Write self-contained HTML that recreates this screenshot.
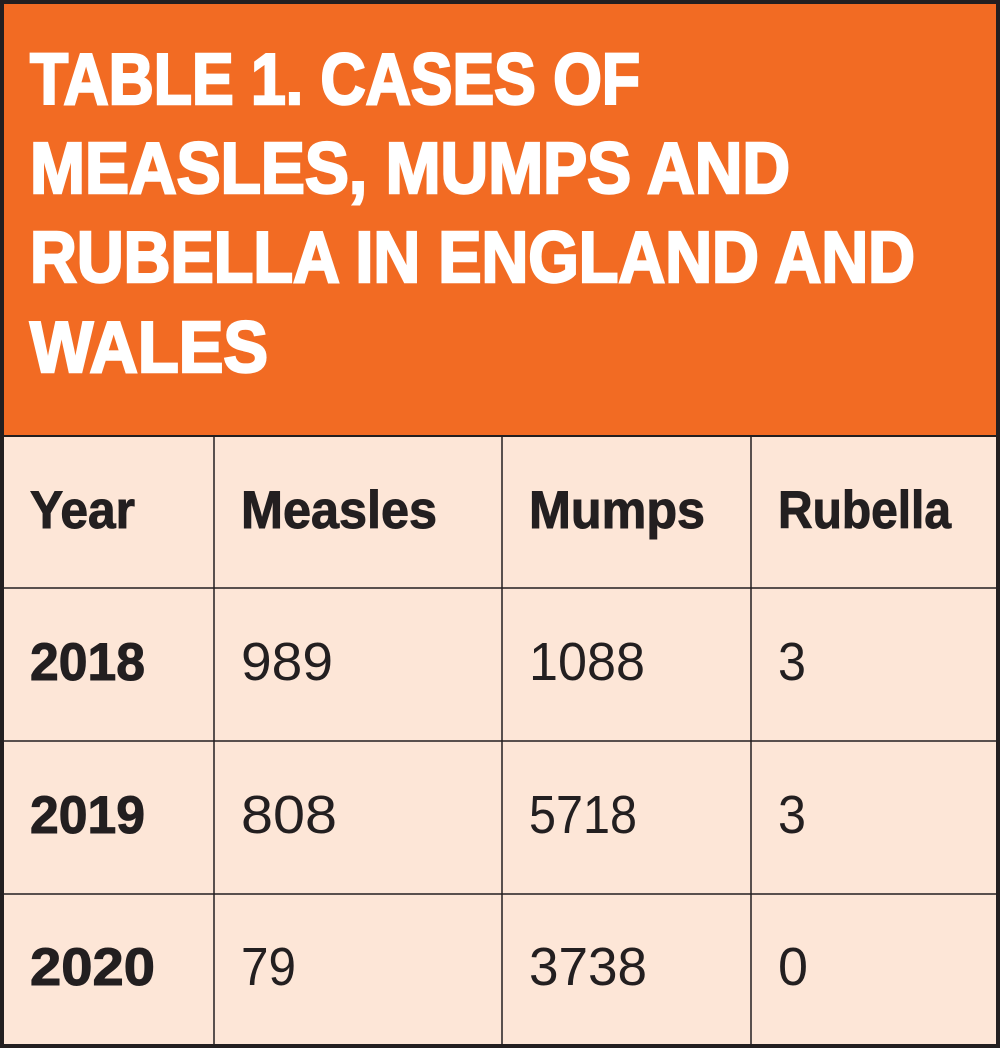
<!DOCTYPE html>
<html><head><meta charset="utf-8"><style>
html,body{margin:0;padding:0;background:#fff}
svg{display:block}
.t{font-family:"Liberation Sans",sans-serif;font-weight:bold;fill:#fff;stroke:#fff;stroke-width:2.5;font-size:72px}
.h{font-family:"Liberation Sans",sans-serif;font-weight:bold;fill:#231f20;stroke:#231f20;stroke-width:1;font-size:53px}
.v{font-family:"Liberation Sans",sans-serif;fill:#231f20;font-size:54px}
</style></head><body>
<svg width="1000" height="1048" viewBox="0 0 1000 1048">
<rect x="0" y="0" width="1000" height="1048" fill="#231f20"/>
<rect x="4" y="4" width="992" height="431" fill="#f26b23"/>
<rect x="4" y="437" width="992" height="607" fill="#fde6d7"/>
<g stroke="#231f20" stroke-width="1.5">
<line x1="4" x2="996" y1="588" y2="588"/><line x1="4" x2="996" y1="741" y2="741"/><line x1="4" x2="996" y1="894" y2="894"/>
<line x1="214" x2="214" y1="436" y2="1044"/><line x1="502" x2="502" y1="436" y2="1044"/><line x1="751" x2="751" y1="436" y2="1044"/>
</g>
<g>
<text class="t" x="30" y="104" textLength="610" lengthAdjust="spacingAndGlyphs">TABLE 1. CASES OF</text>
<text class="t" x="30" y="193" textLength="760" lengthAdjust="spacingAndGlyphs">MEASLES, MUMPS AND</text>
<text class="t" x="30" y="282" textLength="885" lengthAdjust="spacingAndGlyphs">RUBELLA IN ENGLAND AND</text>
<text class="t" x="30" y="372" textLength="238" lengthAdjust="spacingAndGlyphs">WALES</text>
</g>
<g>
<text class="h" x="30" y="528" textLength="105" lengthAdjust="spacingAndGlyphs">Year</text>
<text class="h" x="241" y="528" textLength="196" lengthAdjust="spacingAndGlyphs">Measles</text>
<text class="h" x="529" y="528" textLength="176" lengthAdjust="spacingAndGlyphs">Mumps</text>
<text class="h" x="778" y="528" textLength="173" lengthAdjust="spacingAndGlyphs">Rubella</text>
</g>
<g>
<text class="h" x="30" y="680" textLength="115" lengthAdjust="spacingAndGlyphs">2018</text>
<text class="v" x="241" y="680" textLength="92" lengthAdjust="spacingAndGlyphs">989</text>
<text class="v" x="529" y="680" textLength="116" lengthAdjust="spacingAndGlyphs">1088</text>
<text class="v" x="778" y="680" textLength="28" lengthAdjust="spacingAndGlyphs">3</text>
</g>
<g>
<text class="h" x="30" y="833" textLength="115" lengthAdjust="spacingAndGlyphs">2019</text>
<text class="v" x="241" y="833" textLength="96" lengthAdjust="spacingAndGlyphs">808</text>
<text class="v" x="529" y="833" textLength="108" lengthAdjust="spacingAndGlyphs">5718</text>
<text class="v" x="778" y="833" textLength="28" lengthAdjust="spacingAndGlyphs">3</text>
</g>
<g>
<text class="h" x="30" y="985" textLength="125" lengthAdjust="spacingAndGlyphs">2020</text>
<text class="v" x="241" y="985" textLength="55" lengthAdjust="spacingAndGlyphs">79</text>
<text class="v" x="529" y="985" textLength="118" lengthAdjust="spacingAndGlyphs">3738</text>
<text class="v" x="778" y="985" textLength="30" lengthAdjust="spacingAndGlyphs">0</text>
</g>
</svg>
</body></html>
